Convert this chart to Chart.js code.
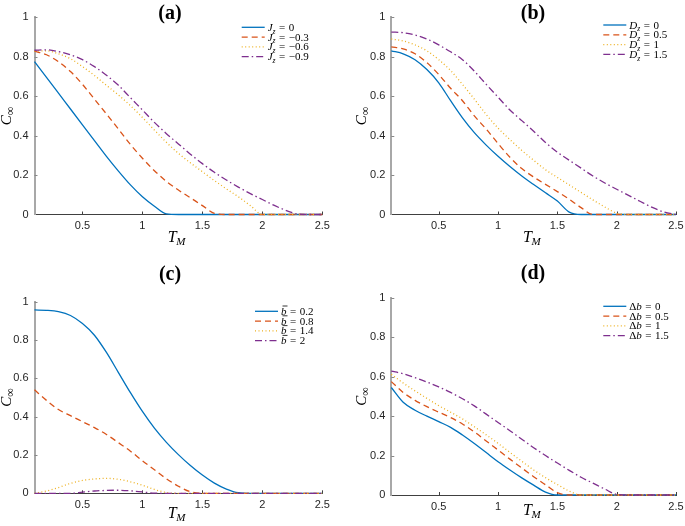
<!DOCTYPE html>
<html>
<head>
<meta charset="utf-8">
<script src="https://cdn.jsdelivr.net/npm/chart.js@4.4.1/dist/chart.umd.min.js"></script>
<style>
  html, body { margin: 0; padding: 0; background: #fff; overflow: hidden; }
  #wrap { position: relative; width: 685px; height: 526px; overflow: hidden; background: #fff; }
  canvas { position: absolute; }
</style>
</head>
<body>
<div id="wrap">
  <canvas id="pa" width="345" height="263" style="left:0;top:0"></canvas>
  <canvas id="pb" width="355" height="263" style="left:345px;top:0"></canvas>
  <canvas id="pc" width="345" height="263" style="left:0;top:263px"></canvas>
  <canvas id="pd" width="355" height="263" style="left:345px;top:263px"></canvas>
</div>
<script>
// T_M grid shared by every curve
var tm = [0.1, 0.2, 0.3, 0.4, 0.5, 0.6, 0.7, 0.8, 0.9, 1.0, 1.1, 1.2, 1.3,
          1.4, 1.5, 1.6, 1.7, 1.8, 1.9, 2.0, 2.1, 2.2, 2.3, 2.4, 2.5];
var xTicks = [0.5, 1, 1.5, 2, 2.5];
var xTickLabels = ['0.5', '1', '1.5', '2', '2.5'];
var yTicks = [0, 0.2, 0.4, 0.6, 0.8, 1];
var yTickLabels = ['0', '0.2', '0.4', '0.6', '0.8', '1'];

// (a) J_z
var jzValues = ['0', '\u22120.3', '\u22120.6', '\u22120.9'];
var cJz0  = [0.775,0.695,0.615,0.535,0.455,0.375,0.295,0.22,0.15,0.09,0.042,0.003,0,0,0,0,0,0,0,0,0,0,0,0,0];
var cJz03 = [0.828,0.81,0.775,0.725,0.66,0.585,0.51,0.433,0.355,0.285,0.222,0.168,0.124,0.085,0.045,0.006,0,0,0,0,0,0,0,0,0];
var cJz06 = [0.83,0.83,0.815,0.79,0.75,0.705,0.655,0.606,0.552,0.492,0.428,0.366,0.31,0.262,0.217,0.172,0.13,0.09,0.045,0,0,0,0,0,0];
var cJz09 = [0.833,0.835,0.826,0.81,0.785,0.75,0.706,0.655,0.592,0.53,0.467,0.41,0.358,0.306,0.258,0.214,0.175,0.139,0.106,0.076,0.046,0.02,0.002,0,0];

// (b) D_z
var dzValues = ['0', '0.5', '1', '1.5'];
var cDz0  = [0.83,0.815,0.785,0.735,0.668,0.577,0.49,0.415,0.352,0.295,0.243,0.195,0.152,0.11,0.068,0.012,0,0,0,0,0,0,0,0,0];
var cDz05 = [0.85,0.84,0.815,0.77,0.71,0.64,0.577,0.5,0.433,0.36,0.29,0.233,0.19,0.153,0.116,0.077,0.035,0,0,0,0,0,0,0,0];
var cDz1  = [0.89,0.88,0.86,0.83,0.785,0.73,0.66,0.585,0.507,0.438,0.38,0.325,0.275,0.227,0.188,0.15,0.112,0.074,0.038,0.007,0,0,0,0,0];
var cDz15 = [0.925,0.922,0.91,0.89,0.86,0.825,0.785,0.727,0.66,0.595,0.53,0.476,0.422,0.365,0.316,0.275,0.235,0.195,0.16,0.128,0.097,0.066,0.036,0.012,0];

// (c) b-bar
var bbValues = ['0.2', '0.8', '1.4', '2'];
var cB02 = [0.957,0.955,0.948,0.928,0.886,0.825,0.735,0.63,0.525,0.427,0.34,0.266,0.202,0.145,0.095,0.053,0.022,0.003,0,0,0,0,0,0,0];
var cB08 = [0.54,0.485,0.437,0.405,0.374,0.343,0.307,0.264,0.22,0.17,0.123,0.076,0.037,0.008,0,0,0,0,0,0,0,0,0,0,0];
var cB14 = [0,0.012,0.03,0.052,0.067,0.075,0.078,0.073,0.06,0.042,0.02,0.004,0,0,0,0,0,0,0,0,0,0,0,0,0];
var cB2  = [0,0,0,0,0.006,0.012,0.015,0.016,0.013,0.007,0.001,0,0,0,0,0,0,0,0,0,0,0,0,0,0];

// (d) delta b
var dbValues = ['0', '0.5', '1', '1.5'];
var cDb0  = [0.545,0.47,0.43,0.4,0.372,0.343,0.304,0.261,0.215,0.169,0.127,0.087,0.05,0.015,0,0,0,0,0,0,0,0,0,0,0];
var cDb05 = [0.575,0.52,0.48,0.448,0.42,0.393,0.36,0.32,0.274,0.228,0.182,0.137,0.093,0.052,0.012,0,0,0,0,0,0,0,0,0,0];
var cDb1  = [0.612,0.568,0.528,0.49,0.453,0.42,0.386,0.346,0.305,0.262,0.216,0.171,0.127,0.088,0.053,0.02,0,0,0,0,0,0,0,0,0];
var cDb15 = [0.628,0.615,0.595,0.573,0.548,0.52,0.488,0.452,0.41,0.368,0.326,0.283,0.24,0.2,0.162,0.125,0.09,0.06,0.03,0.003,0,0,0,0,0];

var colors = ['#0072BD', '#D95319', '#EDB120', '#7E2F8E'];
var dashes = [[], [6, 4], [1, 2.5], [7, 3, 1.5, 3]];

function serif(size, italic, bold) {
  return (italic ? 'italic ' : '') + (bold ? 'bold ' : '') + size + 'px "Liberation Serif", "Times New Roman", serif';
}

// symbol with optional subscript / bar / prefix, then " = value"
function drawMath(ctx, x, y, spec, value, size) {
  var cx = x;
  ctx.textAlign = 'left';
  ctx.textBaseline = 'alphabetic';
  if (spec.pre) {
    ctx.font = serif(size, false);
    ctx.fillText(spec.pre, cx, y);
    cx += ctx.measureText(spec.pre).width;
  }
  ctx.font = serif(size, true);
  ctx.fillText(spec.sym, cx, y);
  var w = ctx.measureText(spec.sym).width;
  if (spec.bar) {
    ctx.save();
    ctx.lineWidth = 0.8;
    ctx.strokeStyle = ctx.fillStyle;
    ctx.beginPath();
    ctx.moveTo(cx + 1.5, y - size * 0.8);
    ctx.lineTo(cx + w + 1, y - size * 0.8);
    ctx.stroke();
    ctx.restore();
  }
  cx += w;
  if (spec.sub) {
    ctx.font = serif(size * 0.7, true);
    ctx.fillText(spec.sub, cx, y + size * 0.25);
    cx += ctx.measureText(spec.sub).width;
  }
  ctx.font = serif(size, false);
  cx += 3.5;
  ctx.fillText('=', cx, y);
  cx += ctx.measureText('=').width + 3.5;
  ctx.fillText(value, cx, y);
}

var panelDecor = {
  id: 'panelDecor',
  beforeDatasetsDraw: function(chart) {
    var ctx = chart.ctx, a = chart.chartArea;
    var xs = chart.scales.x, ys = chart.scales.y;
    ctx.save();
    ctx.lineWidth = 1;
    ctx.strokeStyle = '#404040';
    xTicks.forEach(function(v) {
      var px = Math.round(xs.getPixelForValue(v)) + 0.5;
      ctx.beginPath(); ctx.moveTo(px, a.bottom); ctx.lineTo(px, a.bottom - 3); ctx.stroke();
    });
    ctx.strokeStyle = '#888';
    yTicks.forEach(function(v) {
      if (v === 0) return;
      var py = Math.round(ys.getPixelForValue(v)) + 0.5;
      ctx.beginPath(); ctx.moveTo(a.left, py); ctx.lineTo(a.left + 3, py); ctx.stroke();
    });
    ctx.restore();
  },
  afterDatasetsDraw: function(chart) {
    var o = chart.options.plugins.panelDecor;
    var ctx = chart.ctx, a = chart.chartArea;
    ctx.save();
    ctx.fillStyle = '#000';

    // panel title
    ctx.font = serif(20, false, true);
    ctx.textAlign = 'center';
    ctx.textBaseline = 'middle';
    ctx.fillText(o.title, o.titleX, o.titleY);

    // x label T_M
    ctx.textAlign = 'left';
    ctx.textBaseline = 'alphabetic';
    ctx.font = serif(16, true);
    var wT = ctx.measureText('T').width;
    ctx.font = serif(11, true);
    var wM = ctx.measureText('M').width;
    var x0 = (a.left + a.right) / 2 - 1.5 - (wT + wM) / 2;
    ctx.font = serif(16, true);
    ctx.fillText('T', x0, o.xLabY);
    ctx.font = serif(11, true);
    ctx.fillText('M', x0 + wT - 0.5, o.xLabY + 3);

    // y label C_inf, rotated
    ctx.save();
    ctx.translate(o.yLabX, (a.top + a.bottom) / 2);
    ctx.rotate(-Math.PI / 2);
    ctx.font = serif(15, true);
    var wC = ctx.measureText('C').width;
    ctx.font = serif(12, false);
    var wI = ctx.measureText('\u221E').width;
    var s0 = -(wC + wI) / 2;
    ctx.font = serif(15, true);
    ctx.fillText('C', s0, 0);
    ctx.font = serif(12, false);
    ctx.fillText('\u221E', s0 + wC, 3);
    ctx.restore();

    // legend
    chart.data.datasets.forEach(function(ds, i) {
      var y = o.legY + i * 9.8;
      ctx.save();
      ctx.strokeStyle = ds.borderColor;
      ctx.lineWidth = ds.borderWidth;
      ctx.setLineDash(ds.borderDash);
      ctx.beginPath();
      ctx.moveTo(o.legX, y);
      ctx.lineTo(o.legX + 23, y);
      ctx.stroke();
      ctx.restore();
      ctx.fillStyle = '#000';
      drawMath(ctx, o.legX + 26, y + 3.5, o.sym, o.values[i], 11);
    });
    ctx.restore();
  }
};

function makePanel(cfg) {
  var canvas = document.getElementById(cfg.id);
  var W = canvas.width, H = canvas.height, box = cfg.box;
  var datasets = cfg.series.map(function(ys, i) {
    return {
      data: tm.map(function(t, k) { return { x: t, y: ys[k] }; }),
      borderColor: colors[i],
      borderDash: dashes[i],
      borderWidth: 1.3,
      pointRadius: 0,
      fill: false,
      cubicInterpolationMode: 'monotone',
      clip: false,
      order: cfg.series.length - i
    };
  });
  return new Chart(canvas.getContext('2d'), {
    type: 'line',
    data: { datasets: datasets },
    options: {
      responsive: false,
      animation: false,
      devicePixelRatio: 1,
      layout: { padding: { left: 0, top: box.top, right: W - box.right, bottom: 0 } },
      plugins: {
        legend: { display: false },
        tooltip: { enabled: false },
        panelDecor: cfg
      },
      scales: {
        x: {
          type: 'linear', min: 0.1, max: 2.5,
          afterBuildTicks: function(s) { s.ticks = xTicks.map(function(v) { return { value: v }; }); },
          afterFit: function(s) { s.height = H - box.bottom; },
          ticks: {
            autoSkip: false, maxRotation: 0, padding: 5, color: '#262626',
            font: { family: '"Liberation Sans", Arial, sans-serif', size: 11 },
            callback: function(v) { return xTickLabels[xTicks.indexOf(v)]; }
          },
          grid: { display: true, drawOnChartArea: false, drawTicks: false },
          border: { display: true, color: '#404040', width: 1 }
        },
        y: {
          type: 'linear', min: 0, max: 1,
          afterBuildTicks: function(s) { s.ticks = yTicks.map(function(v) { return { value: v }; }); },
          afterFit: function(s) { s.width = box.left; },
          ticks: {
            autoSkip: false, padding: 6, color: '#262626',
            font: { family: '"Liberation Sans", Arial, sans-serif', size: 11 },
            callback: function(v) { return yTickLabels[yTicks.indexOf(v)]; }
          },
          grid: { display: true, drawOnChartArea: false, drawTicks: false },
          border: { display: true, color: '#a8a8a8', width: 2 }
        }
      }
    },
    plugins: [panelDecor]
  });
}

makePanel({ id: 'pa', title: '(a)', sym: { sym: 'J', sub: 'z' }, values: jzValues,
  series: [cJz0, cJz03, cJz06, cJz09],
  box: { left: 34.5, top: 17.3, right: 322.3, bottom: 214.5 },
  titleX: 170, titleY: 13.5, xLabY: 242, yLabX: 10.5, legX: 241.7, legY: 27.3 });

makePanel({ id: 'pb', title: '(b)', sym: { sym: 'D', sub: 'z' }, values: dzValues,
  series: [cDz0, cDz05, cDz1, cDz15],
  box: { left: 46.3, top: 17.3, right: 331, bottom: 214.5 },
  titleX: 188, titleY: 13.5, xLabY: 242, yLabX: 21, legX: 258.3, legY: 25 });

makePanel({ id: 'pc', title: '(c)', sym: { sym: 'b', bar: true }, values: bbValues,
  series: [cB02, cB08, cB14, cB2],
  box: { left: 34.5, top: 38.7, right: 322.3, bottom: 230.3 },
  titleX: 170, titleY: 12, xLabY: 254.5, yLabX: 10.5, legX: 255, legY: 48.3 });

makePanel({ id: 'pd', title: '(d)', sym: { pre: '\u0394', sym: 'b' }, values: dbValues,
  series: [cDb0, cDb05, cDb1, cDb15],
  box: { left: 46.3, top: 34.8, right: 331, bottom: 232 },
  titleX: 188, titleY: 11, xLabY: 252, yLabX: 21, legX: 258.3, legY: 43.3 });
</script>
</body>
</html>
